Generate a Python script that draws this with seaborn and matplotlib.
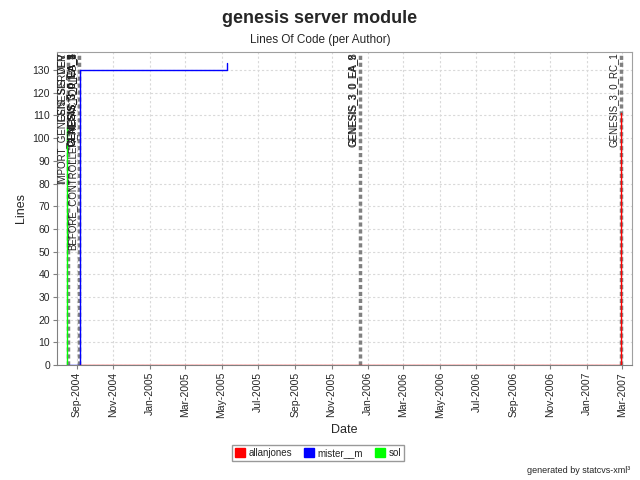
import numpy as np
import pandas as pd
import seaborn as sns
import matplotlib.pyplot as plt
import matplotlib.dates as mdates
from matplotlib.patches import Patch

# per-author lines of code (step points)
authors = ["allanjones", "mister__m", "sol"]
colors = {"allanjones": "#ff0000", "mister__m": "#0000ff", "sol": "#00ff00"}

allanjones_dates = ["2004-09-06", "2007-02-27", "2007-02-27"]
allanjones_loc = [0, 0, 111]
mister_dates = ["2004-08-16", "2004-09-06", "2004-09-06", "2005-05-11", "2005-05-11"]
mister_loc = [0, 0, 130, 130, 133]
sol_dates = ["2004-08-16", "2004-08-16"]
sol_loc = [0, 105]

# tags (version markers)
tag_names = ["IMPORT_GENESIS_SERVER", "GENESIS_DEV",
             "BEFORE_CONTROLLER_REFACTORING_1", "GENESIS_3_0_EA_1", "GENESIS_3_0_EA_2",
             "GENESIS_3_0_EA_3", "GENESIS_3_0_EA_4", "GENESIS_3_0_EA_5",
             "GENESIS_3_0_EA_8", "GENESIS_3_0_EA_9", "GENESIS_3_0_RC_1"]
tag_dates = ["2004-08-18", "2004-08-18",
             "2004-09-05", "2004-09-05", "2004-09-05",
             "2004-09-05", "2004-09-05", "2004-09-05",
             "2005-12-18", "2005-12-18", "2007-02-27"]

frames = []
for name, d, v in [("mister__m", mister_dates, mister_loc),
                   ("allanjones", allanjones_dates, allanjones_loc),
                   ("sol", sol_dates, sol_loc)]:
    frames.append(pd.DataFrame({"date": pd.to_datetime(d), "lines": v, "author": name}))
df = pd.concat(frames, ignore_index=True)

sns.set_style("whitegrid", {"grid.color": "#d9d9d9", "grid.linestyle": (0, (2, 2)),
                            "axes.edgecolor": "#a0a0a0"})
plt.rcParams["font.family"] = ["Liberation Sans", "DejaVu Sans"]

fig = plt.figure(figsize=(6.4, 4.8), dpi=100)
ax = fig.add_axes([0.089, 0.2396, 0.8985, 0.6521])

# tag marker lines
for t in sorted(set(tag_dates)):
    ax.axvline(pd.Timestamp(t), color="#808080", lw=2.5, ls=(0, (1.2, 0.8)), zorder=1)

sns.lineplot(data=df, x="date", y="lines", hue="author", palette=colors,
             estimator=None, sort=False, lw=1, legend=False, ax=ax, zorder=3)

for name, t in zip(tag_names, tag_dates):
    ax.annotate(name, xy=(pd.Timestamp(t), 1), xycoords=("data", "axes fraction"),
                xytext=(-1.5, -0.5), textcoords="offset points", rotation=90,
                ha="right", va="top", fontsize=7, color="#222222", zorder=4)

ax.set_xlim(pd.Timestamp("2004-07-30"), pd.Timestamp("2007-03-18"))
ax.set_ylim(0, 138)
ax.set_yticks(np.arange(0, 131, 10))
ax.xaxis.set_major_locator(mdates.MonthLocator(bymonth=[1, 3, 5, 7, 9, 11]))
ax.xaxis.set_major_formatter(mdates.DateFormatter("%b-%Y"))
plt.setp(ax.get_xticklabels(), rotation=90, ha="center")
ax.tick_params(axis="both", labelsize=7.5, length=3, color="#808080", direction="out",
               bottom=True, left=True, pad=2)
for s in ["left", "bottom"]:
    ax.spines[s].set_color("#808080")
ax.set_xlabel("Date", fontsize=9)
ax.set_ylabel("Lines", fontsize=9)

fig.text(0.5, 0.961, "genesis server module", ha="center", va="center",
         fontsize=13, fontweight="bold")
fig.text(0.5, 0.917, "Lines Of Code (per Author)", ha="center", va="center", fontsize=8.5)

handles = [Patch(facecolor=colors[a], edgecolor=colors[a], label=a) for a in authors]
leg = fig.legend(handles=handles, loc="center", bbox_to_anchor=(0.497, 0.056), ncol=3,
                 fontsize=7, frameon=True, fancybox=False, handlelength=1, handleheight=1,
                 handletextpad=0.4, columnspacing=1.2, borderpad=0.3)
leg.get_frame().set_edgecolor("#808080")
leg.get_frame().set_linewidth(1)

fig.text(0.985, 0.02, "generated by statcvs-xml³", ha="right", va="center", fontsize=6.5)

fig.savefig("out.png", dpi=100)
